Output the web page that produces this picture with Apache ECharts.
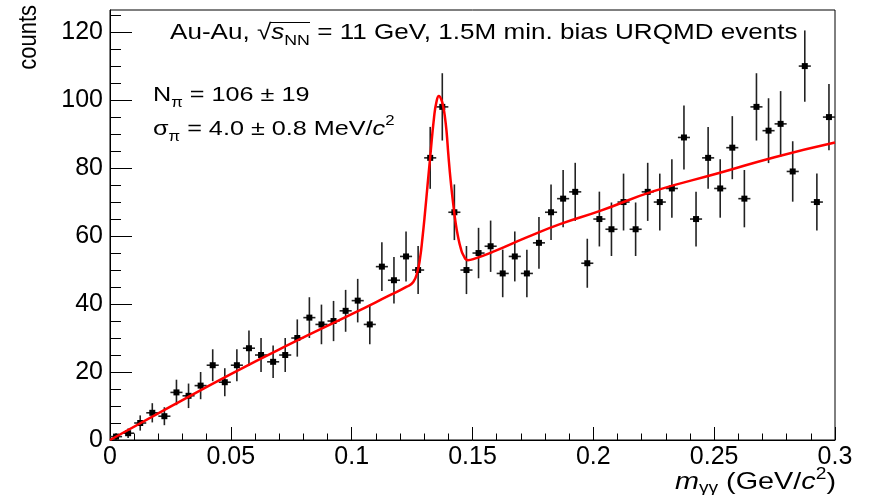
<!DOCTYPE html>
<html>
<head>
<meta charset="utf-8">
<title>m_gg spectrum</title>
<script src="https://cdn.jsdelivr.net/npm/echarts@6/dist/echarts.min.js"></script>
<style>
  html, body { margin: 0; padding: 0; background: #fff; }
  #chart { width: 870px; height: 495px; }
</style>
</head>
<body>
<div id="chart"></div>
<script>
// bin centres in GeV/c^2 (5 MeV bins)
const binCenters = [
  0.0025, 0.0075, 0.0125, 0.0175, 0.0225, 0.0275, 0.0325, 0.0375, 0.0425, 0.0475,
  0.0525, 0.0575, 0.0625, 0.0675, 0.0725, 0.0775, 0.0825, 0.0875, 0.0925, 0.0975,
  0.1025, 0.1075, 0.1125, 0.1175, 0.1225, 0.1275, 0.1325, 0.1375, 0.1425, 0.1475,
  0.1525, 0.1575, 0.1625, 0.1675, 0.1725, 0.1775, 0.1825, 0.1875, 0.1925, 0.1975,
  0.2025, 0.2075, 0.2125, 0.2175, 0.2225, 0.2275, 0.2325, 0.2375, 0.2425, 0.2475,
  0.2525, 0.2575, 0.2625, 0.2675, 0.2725, 0.2775, 0.2825, 0.2875, 0.2925, 0.2975
];
const binWidth = 0.005;
const counts = [
  1, 2, 5, 8, 7, 14, 13, 16, 22, 17,
  22, 27, 25, 23, 25, 30, 36, 34, 35, 38,
  41, 34, 51, 47, 54, 50, 83, 98, 67, 50,
  55, 57, 49, 54, 49, 58, 67, 71, 73, 52,
  65, 62, 70, 62, 73, 70, 74, 89, 65, 83,
  74, 86, 71, 98, 91, 93, 79, 110, 70, 95
];

// fit (pol + gaus)
const fitX = [0, 0.025, 0.05, 0.075, 0.1, 0.115, 0.1228, 0.1255, 0.1272, 0.1283, 0.1293, 0.1303, 0.1314,
  0.1324, 0.1341, 0.1351, 0.1361, 0.137, 0.1379, 0.1386, 0.1393, 0.14, 0.141, 0.1421, 0.1431,
  0.1441, 0.1451, 0.1462, 0.1481, 0.1503, 0.1586, 0.1724, 0.1862, 0.2028, 0.225, 0.2524, 0.275, 0.3];
const fitY = [0, 9.8, 19.4, 28.4, 37.0, 42.3, 45.1, 46.5, 49.5, 53.5, 59.5, 66.5, 75,
  82.5, 95, 99.5, 101.2, 100.3, 98, 95, 90.5, 84, 76, 69, 63.5,
  59.5, 56.5, 54.4, 52.9, 53.2, 55.4, 59.6, 63.5, 67.4, 73.2, 78.6, 83.2, 87.5];

const yTicks = [0, 20, 40, 60, 80, 100, 120];
const yMinorTicks = [5, 10, 15, 25, 30, 35, 45, 50, 55, 65, 70, 75, 85, 90, 95, 105, 110, 115, 125];

const FONT = '"Liberation Sans", Arial, Helvetica, sans-serif';

const points = binCenters.map((x, i) => [x, counts[i], Math.sqrt(counts[i])]);
const fitLine = fitX.map((x, i) => [x, fitY[i]]);

function richStyles(size) {
  return {
    it: { fontStyle: 'italic', fontSize: size, lineHeight: 30, fontFamily: FONT, fill: '#000' },
    sub: { fontSize: Math.round(size * 0.68), lineHeight: 14, verticalAlign: 'bottom', fontFamily: FONT, fill: '#000' },
    sup: { fontSize: Math.round(size * 0.68), lineHeight: 14, verticalAlign: 'top', fontFamily: FONT, fill: '#000' }
  };
}

function textEl(x, y, text, size, align, extra) {
  return Object.assign({
    type: 'text', x: x, y: y, scaleX: 1.2, z: 100,
    style: {
      text: text, fontSize: size, fontFamily: FONT, fill: '#000', lineHeight: 30,
      textAlign: align, textVerticalAlign: 'middle', rich: richStyles(size)
    }
  }, extra || {});
}

const chart = echarts.init(document.getElementById('chart'), null, { renderer: 'canvas' });

const option = {
  animation: false,
  backgroundColor: '#fff',
  grid: {
    left: 110, right: 35, top: 10, bottom: 55,
    show: true, borderColor: '#000', borderWidth: 1, backgroundColor: 'transparent'
  },
  xAxis: {
    type: 'value', min: 0, max: 0.3, interval: 0.05,
    axisLine: { show: true, lineStyle: { color: '#000', width: 1 } },
    axisTick: { show: true, inside: true, length: 13, lineStyle: { color: '#000', width: 1 } },
    minorTick: { show: true, splitNumber: 5, length: 6.5, lineStyle: { color: '#000', width: 1 } },
    axisLabel: { fontSize: 25, color: '#000', fontFamily: FONT, margin: 5 },
    splitLine: { show: false }
  },
  yAxis: [{
    type: 'value', min: 0, max: 126.5,
    axisLine: { show: true, lineStyle: { color: '#000', width: 1 } },
    axisTick: { show: true, inside: true, length: 22, customValues: yTicks, lineStyle: { color: '#000', width: 1 } },
    axisLabel: { fontSize: 25, color: '#000', fontFamily: FONT, margin: 7, customValues: yTicks },
    splitLine: { show: false }
  }, {
    type: 'value', min: 0, max: 126.5, position: 'left',
    axisLine: { show: false },
    axisTick: { show: true, inside: true, length: 11, customValues: yMinorTicks, lineStyle: { color: '#000', width: 1 } },
    axisLabel: { show: false },
    splitLine: { show: false }
  }],
  series: [{
    type: 'custom',
    name: 'data',
    data: points,
    z: 2,
    clip: true,
    renderItem: function (params, api) {
      const x = api.value(0), y = api.value(1), e = api.value(2);
      const c = api.coord([x, y]);
      const hi = api.coord([x, y + e]);
      const lo = api.coord([x, Math.max(0, y - e)]);
      const l = api.coord([x - binWidth / 2, y]);
      const r = api.coord([x + binWidth / 2, y]);
      return {
        type: 'group',
        children: [
          { type: 'line', shape: { x1: c[0], y1: hi[1], x2: c[0], y2: lo[1] }, style: { stroke: '#222', lineWidth: 1.6 } },
          { type: 'line', shape: { x1: l[0], y1: c[1], x2: r[0], y2: c[1] }, style: { stroke: '#222', lineWidth: 1.6 } },
          { type: 'rect', shape: { x: c[0] - 3, y: c[1] - 3, width: 6, height: 6 }, style: { fill: '#000' } }
        ]
      };
    }
  }, {
    type: 'line',
    name: 'fit',
    data: fitLine,
    z: 3,
    showSymbol: false,
    smooth: 0.5,
    lineStyle: { color: '#ff0000', width: 2.5 }
  }],
  graphic: [
    textEl(170, 33, 'Au-Au, √{it|s}{sub|NN} = 11 GeV, 1.5M min. bias URQMD events', 22, 'left', { scaleX: 1.185 }),
    // bar over s_NN of the square root
    { type: 'line', z: 100, shape: { x1: 270, y1: 22.5, x2: 310, y2: 22.5 }, style: { stroke: '#000', lineWidth: 1.2 } },
    textEl(153, 95, 'N{sub|π} = 106 ± 19', 21, 'left'),
    textEl(153, 129, 'σ{sub|π} = 4.0 ± 0.8 MeV/{it|c}{sup|2}', 21, 'left'),
    textEl(836, 482, '{it|m}{sub|γγ} (GeV/{it|c}{sup|2})', 24, 'right'),
    textEl(29, 5, 'counts', 22, 'right', { rotation: Math.PI / 2, scaleX: 1, scaleY: 1.2 })
  ]
};

chart.setOption(option);
</script>
</body>
</html>
